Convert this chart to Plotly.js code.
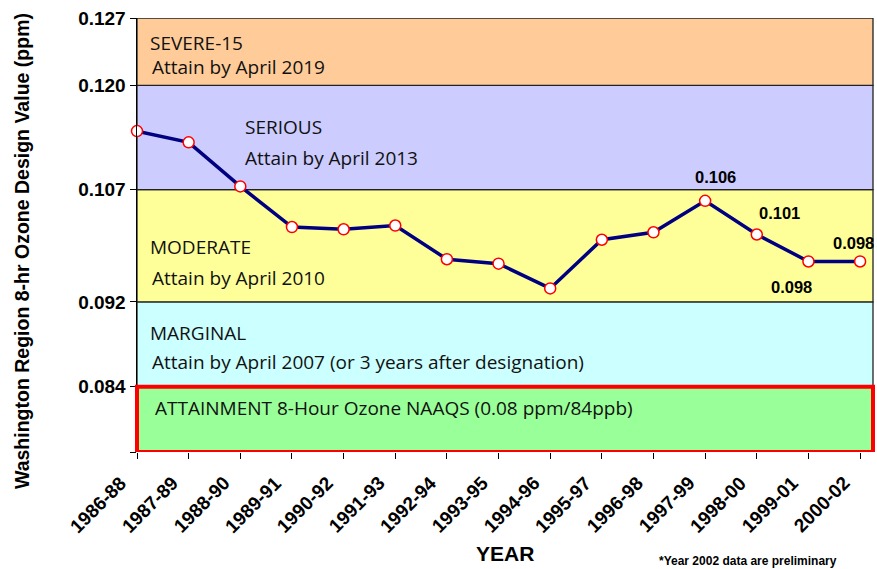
<!DOCTYPE html>
<html>
<head>
<meta charset="utf-8">
<script src="https://cdn.plot.ly/plotly-3.0.1.min.js"></script>
<style>
  html, body { margin: 0; padding: 0; background: #ffffff; }
  #chart { width: 877px; height: 569px; }
</style>
</head>
<body>
<div id="chart"></div>
<script>
// ---------------- DATA ----------------
const categories = ['1986-88','1987-89','1988-90','1989-91','1990-92','1991-93','1992-94',
  '1993-95','1994-96','1995-97','1996-98','1997-99','1998-00','1999-01','2000-02'];
const designValues = [0.1143, 0.1129, 0.1074, 0.1020, 0.1017, 0.1022, 0.0977,
  0.0971, 0.0938, 0.1003, 0.1013, 0.1055, 0.1010, 0.0974, 0.0974];

const yTickValues = [0.076, 0.084, 0.092, 0.107, 0.120, 0.127];
const yTickLabels = ['', '0.084', '0.092', '0.107', '0.120', '0.127'];

const bandNames = ['ATTAINMENT 8-Hour Ozone NAAQS (0.08 ppm/84ppb)', 'MARGINAL', 'MODERATE', 'SERIOUS', 'SEVERE-15'];
const bandDeadlines = ['', 'Attain by April 2007 (or 3 years after designation)',
  'Attain by April 2010', 'Attain by April 2013', 'Attain by April 2019'];
const bandLow  = [0.076, 0.084, 0.092, 0.107, 0.120];
const bandHigh = [0.084, 0.092, 0.107, 0.120, 0.127];

const labeledCategories = ['1997-99', '1998-00', '1999-01', '2000-02'];
const labelTexts = ['0.106', '0.101', '0.098', '0.098'];

// ---------------- SCALE (classification bands drawn at unequal heights) ----------------
const scaleBreakValues = [0.076, 0.084, 0.092, 0.107, 0.120, 0.127];
const scaleBreakDisplay = [0, 65.3, 150.3, 262.7, 367, 434.5];
function bandScale(v) {
  for (let i = 0; i < scaleBreakValues.length - 1; i++) {
    const a = scaleBreakValues[i], b = scaleBreakValues[i + 1];
    if (v <= b || i === scaleBreakValues.length - 2) {
      const t = (v - a) / (b - a);
      return scaleBreakDisplay[i] + t * (scaleBreakDisplay[i + 1] - scaleBreakDisplay[i]);
    }
  }
}

// ---------------- STYLE ----------------
const bandColors = ['#99FF99', '#CCFFFF', '#FFFF99', '#CCCCFF', '#FFCC99'];
const bandTextX = [0.022, 0.015, 0.015, 0.144, 0.015];
const deadlineTextX = [0.018, 0.018, 0.018, 0.144, 0.018];
const nameYOffset = [21, 31, 57, 42, 24.5];      // px below band top
const deadlineYOffset = [0, 60, 88, 73, 48.5];

const boldFont = 'Liberation Sans, Arial, sans-serif';
const bandFont = 'Open Sans, DejaVu Sans, sans-serif';

const shapes = [];
const annotations = [];
for (let i = 0; i < bandNames.length; i++) {
  const isAttain = i === 0;
  shapes.push({
    type: 'rect', xref: 'paper', yref: 'y',
    x0: 0, x1: 1, y0: bandScale(bandLow[i]), y1: bandScale(bandHigh[i]),
    fillcolor: bandColors[i],
    line: isAttain ? {color: '#FF0000', width: 4} : {color: '#222222', width: 1.3},
    layer: isAttain ? 'above' : 'below'
  });
  annotations.push({
    xref: 'paper', yref: 'y', x: bandTextX[i], y: bandScale(bandHigh[i]),
    yshift: -nameYOffset[i],
    xanchor: 'left', yanchor: 'middle', showarrow: false,
    text: bandNames[i], font: {family: bandFont, size: 19, color: '#111111'}
  });
  if (bandDeadlines[i]) {
    annotations.push({
      xref: 'paper', yref: 'y', x: deadlineTextX[i], y: bandScale(bandHigh[i]),
      yshift: -deadlineYOffset[i],
      xanchor: 'left', yanchor: 'middle', showarrow: false,
      text: bandDeadlines[i], font: {family: bandFont, size: 19, color: '#111111'}
    });
  }
}

// rotated category labels under the ticks
categories.forEach((c, idx) => {
  annotations.push({
    xref: 'x', yref: 'paper', x: idx, y: 0,
    xshift: -3.5, yshift: -17.5,
    xanchor: 'right', yanchor: 'top', showarrow: false, textangle: -45,
    text: '<b>' + c + '</b>', font: {family: boldFont, size: 19, color: '#000000'}
  });
});

// data labels
const labelShifts = [[10, 24], [23, 22], [-17, -26], [-7, 18]];
for (let k = 0; k < labeledCategories.length; k++) {
  const idx = categories.indexOf(labeledCategories[k]);
  annotations.push({
    xref: 'x', yref: 'y', x: idx, y: bandScale(designValues[idx]),
    xshift: labelShifts[k][0], yshift: labelShifts[k][1],
    showarrow: false, xanchor: 'center', yanchor: 'middle',
    text: labelTexts[k], font: {family: boldFont, size: 16.5, color: '#000000', weight: 'bold'}
  });
}

// titles and footnote
annotations.push({
  xref: 'paper', yref: 'paper', x: (22 - 137) / 736, y: (452 - 251) / 434,
  xanchor: 'center', yanchor: 'middle', showarrow: false, textangle: -90,
  text: '<b>Washington Region 8-hr Ozone Design Value (ppm)</b>',
  font: {family: boldFont, size: 19.5, color: '#000000'}
});
annotations.push({
  xref: 'paper', yref: 'paper', x: (505 - 137) / 736, y: (452 - 553) / 434,
  xanchor: 'center', yanchor: 'middle', showarrow: false,
  text: '<b>YEAR</b>', font: {family: boldFont, size: 21, color: '#000000'}
});
annotations.push({
  xref: 'paper', yref: 'paper', x: (748 - 137) / 736, y: (452 - 561) / 434,
  xanchor: 'center', yanchor: 'middle', showarrow: false,
  text: '<b>*Year 2002 data are preliminary</b>', font: {family: boldFont, size: 12, color: '#000000'}
});

const trace = {
  type: 'scatter', mode: 'lines+markers',
  x: categories, y: designValues.map(bandScale),
  line: {color: '#000080', width: 3.5},
  marker: {size: 11, color: '#FFFFFF', line: {color: '#FF0000', width: 1.5}},
  cliponaxis: false, hoverinfo: 'skip'
};

const layout = {
  width: 877, height: 569,
  margin: {l: 137, r: 4, t: 18, b: 117},
  paper_bgcolor: '#FFFFFF', plot_bgcolor: '#FFFFFF',
  showlegend: false,
  xaxis: {
    type: 'category', range: [0, 14.25],
    showgrid: false, zeroline: false, showline: false,
    ticks: 'outside', ticklen: 6, tickcolor: '#000000', tickwidth: 1,
    showticklabels: false
  },
  yaxis: {
    range: [0, 434.5], showgrid: false, zeroline: false,
    showline: true, linecolor: '#000000', linewidth: 1.5,
    ticks: 'outside', ticklen: 6, tickcolor: '#000000', tickwidth: 1,
    tickmode: 'array', tickvals: yTickValues.map(bandScale), ticktext: yTickLabels,
    tickfont: {family: boldFont, size: 19, color: '#000000', weight: 'bold'}
  },
  shapes: shapes,
  annotations: annotations
};

Plotly.newPlot('chart', [trace], layout, {staticPlot: true, displayModeBar: false});
</script>
</body>
</html>
